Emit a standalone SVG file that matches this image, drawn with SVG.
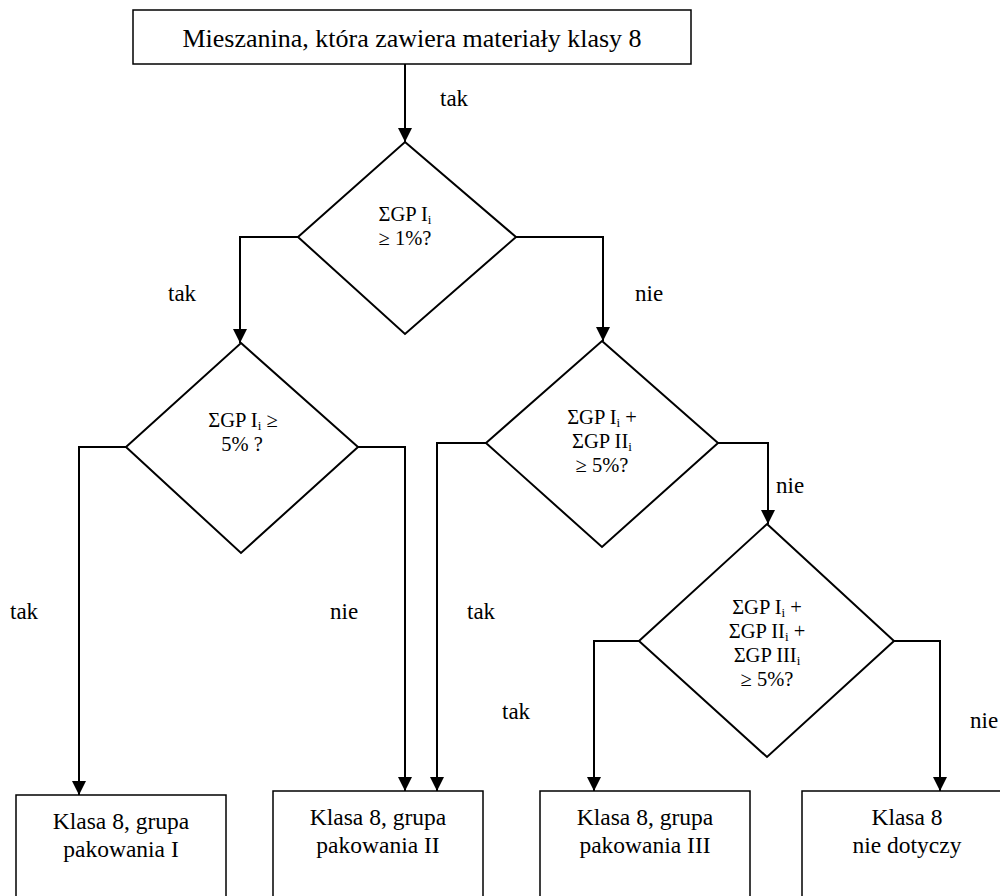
<svg xmlns="http://www.w3.org/2000/svg" width="1000" height="896" viewBox="0 0 1000 896" font-family="Liberation Serif, Times New Roman, serif" font-size="20">
<style>
text{font-family:'Liberation Serif','Times New Roman',Times,serif;font-size:20.5px;fill:#000;text-anchor:middle}
.lbl{text-anchor:start;font-size:23px}
.big{font-size:26px}
.res{font-size:23.5px}
.box{fill:#fff;stroke:#000;stroke-width:1.5}
.dia{fill:#fff;stroke:#000;stroke-width:2}
.con{fill:none;stroke:#000;stroke-width:2;marker-end:url(#ah)}
.sub{font-size:13px}
</style>
<defs>
<marker id="ah" markerUnits="userSpaceOnUse" markerWidth="14" markerHeight="14" viewBox="0 0 14 14" refX="14" refY="7" orient="auto">
<path d="M0,0 L14,7 L0,14 z" fill="#000"/>
</marker>
</defs>
<g id="start">
<rect class="box" x="133" y="10" width="558" height="54"/>
<text class="big" x="412" y="47">Mieszanina, która zawiera materiały klasy 8</text>
</g>
<g id="d1">
<polygon class="dia" points="405,142 516,237 405,334 298,237"/>
<text x="405" y="221">ΣGP I<tspan class="sub" baseline-shift="-3">i</tspan></text>
<text x="405" y="245">≥ 1%?</text>
</g>
<g id="d2">
<polygon class="dia" points="241,343 358,447 241,553 126,447"/>
<text x="243" y="427">ΣGP I<tspan class="sub" baseline-shift="-3">i</tspan> ≥</text>
<text x="242" y="451">5% ?</text>
</g>
<g id="d3">
<polygon class="dia" points="602,341 718,443 602,547 486,443"/>
<text x="602" y="424">ΣGP I<tspan class="sub" baseline-shift="-3">i</tspan> +</text>
<text x="602" y="448">ΣGP II<tspan class="sub" baseline-shift="-3">i</tspan></text>
<text x="602" y="472">≥ 5%?</text>
</g>
<g id="d4">
<polygon class="dia" points="767,524 894,641 767,757 639,641"/>
<text x="767" y="614">ΣGP I<tspan class="sub" baseline-shift="-3">i</tspan> +</text>
<text x="767" y="638">ΣGP II<tspan class="sub" baseline-shift="-3">i</tspan> +</text>
<text x="767" y="662">ΣGP III<tspan class="sub" baseline-shift="-3">i</tspan></text>
<text x="767" y="686">≥ 5%?</text>
</g>
<g id="r1">
<rect class="box" x="16" y="795" width="210" height="120"/>
<text class="res" x="121" y="829">Klasa 8, grupa</text>
<text class="res" x="121" y="857">pakowania I</text>
</g>
<g id="r2">
<rect class="box" x="273" y="791" width="210" height="120"/>
<text class="res" x="378" y="825">Klasa 8, grupa</text>
<text class="res" x="378" y="853">pakowania II</text>
</g>
<g id="r3">
<rect class="box" x="540" y="791" width="210" height="120"/>
<text class="res" x="645" y="825">Klasa 8, grupa</text>
<text class="res" x="645" y="853">pakowania III</text>
</g>
<g id="r4">
<rect class="box" x="802" y="791" width="210" height="120"/>
<text class="res" x="907" y="825">Klasa 8</text>
<text class="res" x="907" y="853">nie dotyczy</text>
</g>
<g id="connectors">
<path class="con" d="M405,64 L405,142"/>
<path class="con" d="M298,237 L240,237 L240,343"/>
<path class="con" d="M516,237 L603,237 L603,341"/>
<path class="con" d="M126,447 L79,447 L79,795"/>
<path class="con" d="M358,447 L405,447 L405,791"/>
<path class="con" d="M486,443 L437,443 L437,791"/>
<path class="con" d="M718,443 L768,443 L768,524"/>
<path class="con" d="M639,641 L594,641 L594,791"/>
<path class="con" d="M894,641 L940,641 L940,791"/>
<text class="lbl" x="440" y="106">tak</text>
<text class="lbl" x="168" y="301">tak</text>
<text class="lbl" x="635" y="301">nie</text>
<text class="lbl" x="10" y="619">tak</text>
<text class="lbl" x="330" y="619">nie</text>
<text class="lbl" x="467" y="619">tak</text>
<text class="lbl" x="776" y="493">nie</text>
<text class="lbl" x="502" y="719">tak</text>
<text class="lbl" x="970" y="728">nie</text>
</g>
</svg>
